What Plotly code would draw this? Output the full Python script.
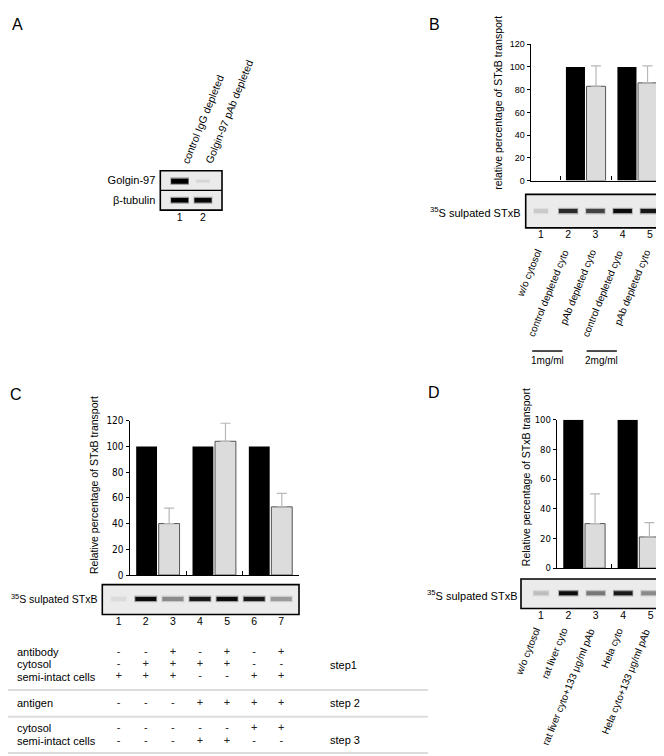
import plotly.graph_objects as go

W, H = 664, 756
FONT = "Liberation Sans, Arial, sans-serif"
NARROW = "Liberation Sans Narrow, DejaVu Sans Condensed, Liberation Sans, Arial Narrow, sans-serif"

# ---------------- data ----------------
# Panel A (western blot)
a_lane_numbers = ["1", "2"]
a_lane_labels = ["control IgG depleted", "Golgin-97 pAb depleted"]
a_row_labels = ["β-tubulin", "Golgin-97"]          # bottom row, top row
a_golgin_bands = [1.0, 0.12]
a_tubulin_bands = [1.0, 0.97]

# Panel B
b_lane_numbers = ["1", "2", "3", "4", "5"]
b_lane_labels = ["w/o cytosol", "control depleted cyto", "pAb depleted cyto",
                 "control depleted cyto", "pAb depleted cyto"]
b_condition = ["none", "control", "treated", "control", "treated"]
b_values = [0, 100, 83, 100, 86]
b_errors = [0, 0, 18, 0, 15]
b_bands = [0.15, 0.82, 0.72, 0.95, 0.9]
b_conc_labels = ["1mg/ml", "2mg/ml"]
b_yticks = [0, 20, 40, 60, 80, 100, 120]

# Panel C
c_lane_numbers = ["1", "2", "3", "4", "5", "6", "7"]
c_condition = ["none", "control", "treated", "control", "treated", "control", "treated"]
c_values = [0, 100, 40, 100, 104, 100, 53]
c_errors = [0, 0, 12, 0, 14, 0, 10.5]
c_bands = [0.08, 0.95, 0.42, 0.9, 0.95, 0.9, 0.35]
c_yticks = [0, 20, 40, 60, 80, 100, 120]
c_table_labels = ["antibody", "cytosol", "semi-intact cells", "antigen", "cytosol", "semi-intact cells"]
c_table_signs = [
    ["-", "-", "+", "-", "+", "-", "+"],
    ["-", "+", "+", "+", "+", "-", "-"],
    ["+", "+", "+", "-", "-", "+", "+"],
    ["-", "-", "-", "+", "+", "+", "+"],
    ["-", "-", "-", "-", "-", "+", "+"],
    ["-", "-", "-", "+", "+", "-", "-"],
]
c_steps = ["step1", "step 2", "step 3"]

# Panel D
d_lane_numbers = ["1", "2", "3", "4", "5"]
d_lane_labels = ["w/o cytosol", "rat liver cyto", "rat liver cyto+133 μg/ml pAb",
                 "Hela cyto", "Hela cyto+133 μg/ml pAb"]
d_condition = ["none", "control", "treated", "control", "treated"]
d_values = [0, 100, 30, 100, 21]
d_errors = [0, 0, 20, 0, 9.7]
d_bands = [0.2, 0.95, 0.5, 0.9, 0.42]
d_yticks = [0, 20, 40, 60, 80, 100]

# ---------------- layout helpers ----------------
def dx(a, b):
    return [a / W, b / W]

def dy(top, bot):
    return [1 - bot / H, 1 - top / H]

def pair_pos(lane):
    # lanes 2,3 -> group 0 ; 4,5 -> group 1 ; 6,7 -> group 2
    g = (lane - 2) // 2
    w = (lane - 2) % 2
    return g + 0.3 + 0.4 * w

def gray(intensity):
    v = int(round(238 * (1 - intensity)))
    return f"rgb({v},{v},{v})"

fig = go.Figure()

# ---------------- bar charts ----------------
bar_panels = [
    ("x", "y", b_condition, b_values, b_errors),
    ("x2", "y2", c_condition, c_values, c_errors),
    ("x3", "y3", d_condition, d_values, d_errors),
]
for xa, ya, cond, vals, errs in bar_panels:
    ctrl = [i for i, c in enumerate(cond) if c == "control"]
    trt = [i for i, c in enumerate(cond) if c == "treated"]
    fig.add_trace(go.Bar(
        x=[pair_pos(i + 1) for i in ctrl], y=[vals[i] for i in ctrl], width=0.37,
        marker=dict(color="black", line=dict(width=0)),
        xaxis=xa, yaxis=ya, showlegend=False, hoverinfo="skip"))
    fig.add_trace(go.Bar(
        x=[pair_pos(i + 1) for i in trt], y=[vals[i] for i in trt], width=0.37,
        marker=dict(color="#dcdcdc", line=dict(color="#555555", width=1)),
        error_y=dict(type="data", array=[errs[i] for i in trt], arrayminus=[0] * len(trt),
                     symmetric=False, color="#b8b8b8", thickness=1.2, width=5),
        xaxis=xa, yaxis=ya, showlegend=False, hoverinfo="skip"))

# ---------------- gels ----------------
def add_band(xa, ya, lane, yc, half, inten, thick):
    fig.add_trace(go.Scatter(
        x=[lane - half, lane + half], y=[yc, yc], mode="lines",
        line=dict(color=gray(inten), width=thick + 2.5), opacity=0.35,
        xaxis=xa, yaxis=ya, showlegend=False, hoverinfo="skip"))
    fig.add_trace(go.Scatter(
        x=[lane - half * 0.92, lane + half * 0.92], y=[yc, yc], mode="lines",
        line=dict(color=gray(inten), width=thick),
        xaxis=xa, yaxis=ya, showlegend=False, hoverinfo="skip"))

for i, v in enumerate(a_golgin_bands):
    add_band("x4", "y4", i + 1, 1.47, 0.4 if v > 0.5 else 0.3, v, 5 if v > 0.5 else 1.5)
for i, v in enumerate(a_tubulin_bands):
    add_band("x4", "y4", i + 1, 0.5, 0.4, v, 4.5)
for i, v in enumerate(b_bands):
    add_band("x5", "y5", i + 1, 0.5, 0.37 if i else 0.28, v, 4)
for i, v in enumerate(c_bands):
    add_band("x6", "y6", i + 1, 0.52, 0.42 if i else 0.3, v, 4)
for i, v in enumerate(d_bands):
    add_band("x7", "y7", i + 1, 0.52, 0.37 if i else 0.3, v, 4)

# gel geometry (pixel boxes and lane ranges)
GA = dict(x=(152.3, 214), y=(159, 199), r=(0.167, 2.815))
GB = dict(x=(517.7, 662), y=(183, 217), r=(0.44, 5.74))
GC = dict(x=(94.3, 291), y=(579, 609.3), r=(0.395, 7.654))
GD = dict(x=(513, 662), y=(573.3, 603.3), r=(0.27, 5.71))

def lane_px(g, lane):
    (x0, x1), (r0, r1) = g["x"], g["r"]
    return x0 + (lane - r0) / (r1 - r0) * (x1 - x0)

# ---------------- table of panel C (pixel overlay axis) ----------------
row_y = [647.5, 660, 672.5, 699, 725, 737.5]
tx, ty, tt = [], [], []
for r, signs in enumerate(c_table_signs):
    for j, s in enumerate(signs):
        tx.append(lane_px(GC, j + 1))
        ty.append(row_y[r])
        tt.append(s)
fig.add_trace(go.Scatter(
    x=tx, y=ty, text=tt, mode="text", textposition="middle center",
    textfont=dict(family=FONT, size=11, color="#222"),
    xaxis="x8", yaxis="y8", showlegend=False, hoverinfo="skip"))

# ---------------- axes ----------------
axis_common = dict(showgrid=False, zeroline=False, fixedrange=True)
lay = dict(
    width=W, height=H, margin=dict(l=0, r=0, t=0, b=0),
    paper_bgcolor="white", plot_bgcolor="rgba(0,0,0,0)",
    barmode="overlay", showlegend=False,
    font=dict(family=FONT, color="black"),
)

def bar_axes(n, xdom, ydom, xr, xt, yr, yt, tickfont):
    sx = "" if n == 1 else str(n)
    lay["xaxis" + sx] = dict(domain=xdom, range=xr, showline=True, linecolor="black", linewidth=1.3,
                             ticks="inside", ticklen=4, tickwidth=1.3, tickcolor="black",
                             tickvals=xt, showticklabels=False, anchor="y" + sx, **axis_common)
    lay["yaxis" + sx] = dict(domain=ydom, range=yr, showline=True, linecolor="black", linewidth=1.3,
                             ticks="outside", ticklen=3, tickwidth=1.3, tickcolor="black",
                             tickvals=yt, tickfont=tickfont, anchor="x" + sx, **axis_common)

bar_axes(1, dx(522.7, 655), dy(30.7, 169), [-0.569, 2], [0, 1, 2], [0, 120], b_yticks,
         dict(family=FONT, size=9))
bar_axes(2, dx(121.7, 290.7), dy(412.7, 569.3), [0, 3], [1, 2, 3], [0, 120], c_yticks,
         dict(family=NARROW, size=10))
bar_axes(3, dx(549, 657.7), dy(411.7, 562.3), [0, 2], [1, 2], [0, 100], d_yticks,
         dict(family=NARROW, size=9.5))

def gel_axes(n, g, nums, rows=None, yr=(0, 1)):
    sx = str(n)
    lay["xaxis" + sx] = dict(domain=dx(*g["x"]), range=list(g["r"]), showline=False,
                             tickvals=list(range(1, len(nums) + 1)), ticktext=nums, ticks="",
                             ticklabelstandoff=-1,
                             tickfont=dict(family=FONT, size=10.5), anchor="y" + sx, **axis_common)
    yd = dict(domain=dy(*g["y"]), range=list(yr), showline=False, ticks="",
              anchor="x" + sx, **axis_common)
    if rows:
        yd.update(tickvals=[0.5, 1.5], ticktext=rows, tickfont=dict(family=FONT, size=11),
                  ticklabelstandoff=4)
    else:
        yd.update(showticklabels=False)
    lay["yaxis" + sx] = yd

gel_axes(4, GA, a_lane_numbers, a_row_labels, (0, 2))
gel_axes(5, GB, b_lane_numbers)
gel_axes(6, GC, c_lane_numbers)
gel_axes(7, GD, d_lane_numbers)

lay["xaxis8"] = dict(domain=[0, 1], range=[0, W], visible=False, anchor="y8", **axis_common)
lay["yaxis8"] = dict(domain=[0, 1], range=[H, 0], visible=False, anchor="x8", **axis_common)

fig.update_layout(**lay)

# ---------------- shapes ----------------
shapes = []
for n in (4, 5, 6, 7):
    shapes.append(dict(type="rect", xref=f"x{n} domain", yref=f"y{n} domain", x0=0, x1=1, y0=0, y1=1,
                       fillcolor="#ebebeb", line=dict(color="black", width=1.6), layer="below"))
shapes.append(dict(type="line", xref="x4 domain", yref="y4", x0=0, x1=1, y0=1, y1=1,
                   line=dict(color="black", width=1.4)))
# table separators
for yy in (686, 713, 750):
    shapes.append(dict(type="line", xref="x8", yref="y8", x0=0, x1=420, y0=yy, y1=yy,
                       line=dict(color="#dcdcdc", width=2)))
# concentration underlines in B
for (l0, l1) in ((2, 3), (4, 5)):
    shapes.append(dict(type="line", xref="x8", yref="y8",
                       x0=lane_px(GB, l0) - 36, x1=lane_px(GB, l1) - 33, y0=342, y1=342,
                       line=dict(color="black", width=1.4)))
fig.update_layout(shapes=shapes)

# ---------------- annotations ----------------
ann = []
def txt(x, y, s, size=11, xanchor="center", yanchor="middle", angle=0, family=FONT):
    ann.append(dict(x=x, y=y, xref="x8", yref="y8", text=s, showarrow=False, xanchor=xanchor,
                    yanchor=yanchor, textangle=angle, font=dict(family=family, size=size, color="black")))

# panel letters
txt(9.5, 11, "A", 16)
txt(426, 11, "B", 16)
txt(7.5, 386, "C", 16)
txt(425.5, 384, "D", 16)

# y titles
txt(490, 90, "relative percentage of STxB transport", 10.5, angle=-90)
txt(86, 478, "Relative percentage of STxB transport", 10.5, angle=-90)
txt(518, 470, "Relative percentage of STxB transport", 10.5, angle=-90)

# gel labels
lbl = "<sup>35</sup>S sulpated STxB"
txt(515, 201, lbl, 11, xanchor="right")
txt(91, 593, lbl, 10.5, xanchor="right")
txt(511.5, 590, lbl, 11, xanchor="right")

# panel A column labels
for i, s in enumerate(a_lane_labels):
    txt(lane_px(GA, i + 1) - 3, 156, s, 10.5, xanchor="left", yanchor="bottom", angle=-68)
# panel B lane labels
for i, s in enumerate(b_lane_labels):
    txt(lane_px(GB, i + 1) + 5, 235, s, 10, xanchor="right", yanchor="top", angle=-68)
for k, s in enumerate(b_conc_labels):
    l0 = 2 + 2 * k
    txt((lane_px(GB, l0) + lane_px(GB, l0 + 1)) / 2 - 34.5, 352, s, 10)
# panel D lane labels
for i, s in enumerate(d_lane_labels):
    txt(lane_px(GD, i + 1) + 4, 619, s, 10, xanchor="right", yanchor="top", angle=-68)

# table labels / steps
for r, s in enumerate(c_table_labels):
    txt(7, row_y[r], s, 11, xanchor="left")
for s, yy in zip(c_steps, (661, 699, 737)):
    txt(320, yy, s, 11, xanchor="left")

fig.update_layout(annotations=ann)

fig.write_html("out.html")
